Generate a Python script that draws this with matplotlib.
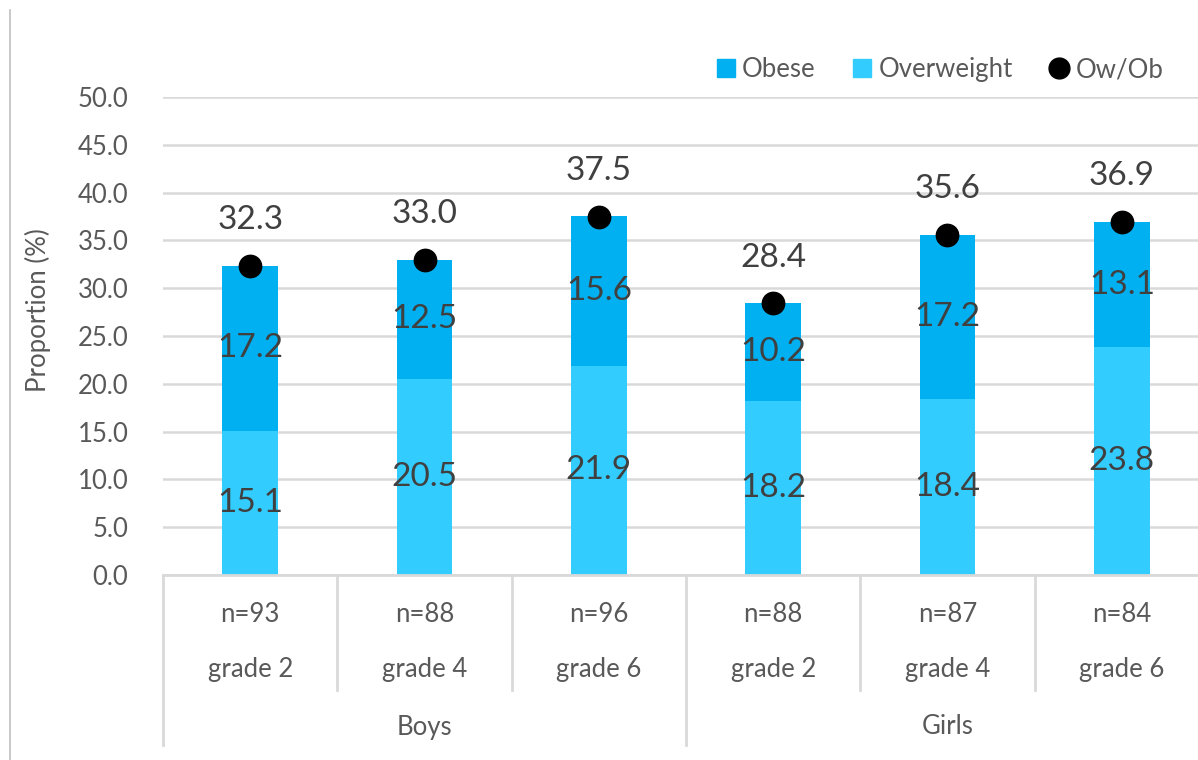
import matplotlib
matplotlib.use("Agg")
import matplotlib.pyplot as plt
from matplotlib.lines import Line2D
from matplotlib.patches import Patch

plt.rcParams['font.family'] = ['Lato', 'DejaVu Sans']

grades = ["grade 2", "grade 4", "grade 6", "grade 2", "grade 4", "grade 6"]
n_labels = ["n=93", "n=88", "n=96", "n=88", "n=87", "n=84"]
groups = ["Boys", "Girls"]
overweight = [15.1, 20.5, 21.9, 18.2, 18.4, 23.8]
obese = [17.2, 12.5, 15.6, 10.2, 17.2, 13.1]
ow_ob = [32.3, 33.0, 37.5, 28.4, 35.6, 36.9]
yticks = [0, 5, 10, 15, 20, 25, 30, 35, 40, 45, 50]

C_OB = "#00B0F0"
C_OW = "#33CCFF"
GRID = "#D9D9D9"
TXT = "#595959"
VAL = "#404040"

W, H = 1198, 760
fig = plt.figure(figsize=(W / 100, H / 100), dpi=100)
ax = fig.add_axes([163 / W, 1 - 575 / H, (1209 - 163) / W, (575 - 97) / H])

x = list(range(len(grades)))
ax.bar(x, overweight, width=0.32, color=C_OW, zorder=2)
ax.bar(x, obese, width=0.32, bottom=overweight, color=C_OB, zorder=2)
ax.scatter(x, ow_ob, s=260, color="black", zorder=4, clip_on=False)

for i in x:
    ax.text(i, overweight[i] / 2, f"{overweight[i]:.1f}", ha="center", va="center",
            fontsize=24, color=VAL, zorder=5)
    ax.text(i, overweight[i] + obese[i] / 2, f"{obese[i]:.1f}", ha="center", va="center",
            fontsize=24, color=VAL, zorder=5)
    ax.annotate(f"{ow_ob[i]:.1f}", (i, ow_ob[i]), xytext=(0, 33), textcoords="offset points",
                ha="center", va="center", fontsize=24, color=VAL, zorder=5)

ax.set_xlim(-0.5, 5.5)
ax.set_ylim(0, 50)
ax.set_yticks(yticks)
ax.set_yticklabels([f"{v:.1f}" for v in yticks], fontsize=18.5, color=TXT)
ax.tick_params(axis="y", length=0, pad=25)
ax.set_xticks([])
for s in ["left", "right", "top"]:
    ax.spines[s].set_visible(False)
ax.spines["bottom"].set_color(GRID)
ax.spines["bottom"].set_linewidth(2)
ax.grid(axis="y", color=GRID, linewidth=1.8, zorder=0)
ax.set_axisbelow(True)

# multi-level category axis
trans = ax.get_xaxis_transform()
def ypix(p):
    # figure pixel (from top) -> axes y fraction
    return (575 - p) / (575 - 97)

for k in range(7):
    xb = k - 0.5
    bottom = 745 if k in (0, 3, 6) else 690
    ax.add_line(Line2D([xb, xb], [0, ypix(bottom)], transform=trans, color=GRID,
                       linewidth=2, clip_on=False))
for i in x:
    ax.text(i, ypix(615), n_labels[i], transform=trans, ha="center", va="center",
            fontsize=18.5, color=TXT)
    ax.text(i, ypix(670), grades[i], transform=trans, ha="center", va="center",
            fontsize=18.5, color=TXT)
for g, name in enumerate(groups):
    ax.text(g * 3 + 1, ypix(727), name, transform=trans, ha="center", va="center",
            fontsize=18.5, color=TXT)

fig.text(38 / W, 1 - 310 / H, "Proportion (%)", rotation=90, ha="center", va="center",
         fontsize=18.5, color=TXT)

# chart border on left
fig.add_artist(Line2D([10 / W, 10 / W], [0, 1 - 10 / H], color="#BFBFBF", linewidth=1.2))

handles = [Patch(color=C_OB, label="Obese"), Patch(color=C_OW, label="Overweight"),
           Line2D([], [], marker="o", color="black", linestyle="none", markersize=15,
                  label="Ow/Ob")]
leg = fig.legend(handles=handles, loc="upper right", bbox_to_anchor=(1187 / W, 1 - 34 / H),
                 ncol=3, frameon=False, fontsize=18.5, handlelength=0.7, handleheight=0.7,
                 handletextpad=0.3, columnspacing=1.45)
for t in leg.get_texts():
    t.set_color(TXT)

fig.savefig("out.png", dpi=100)
